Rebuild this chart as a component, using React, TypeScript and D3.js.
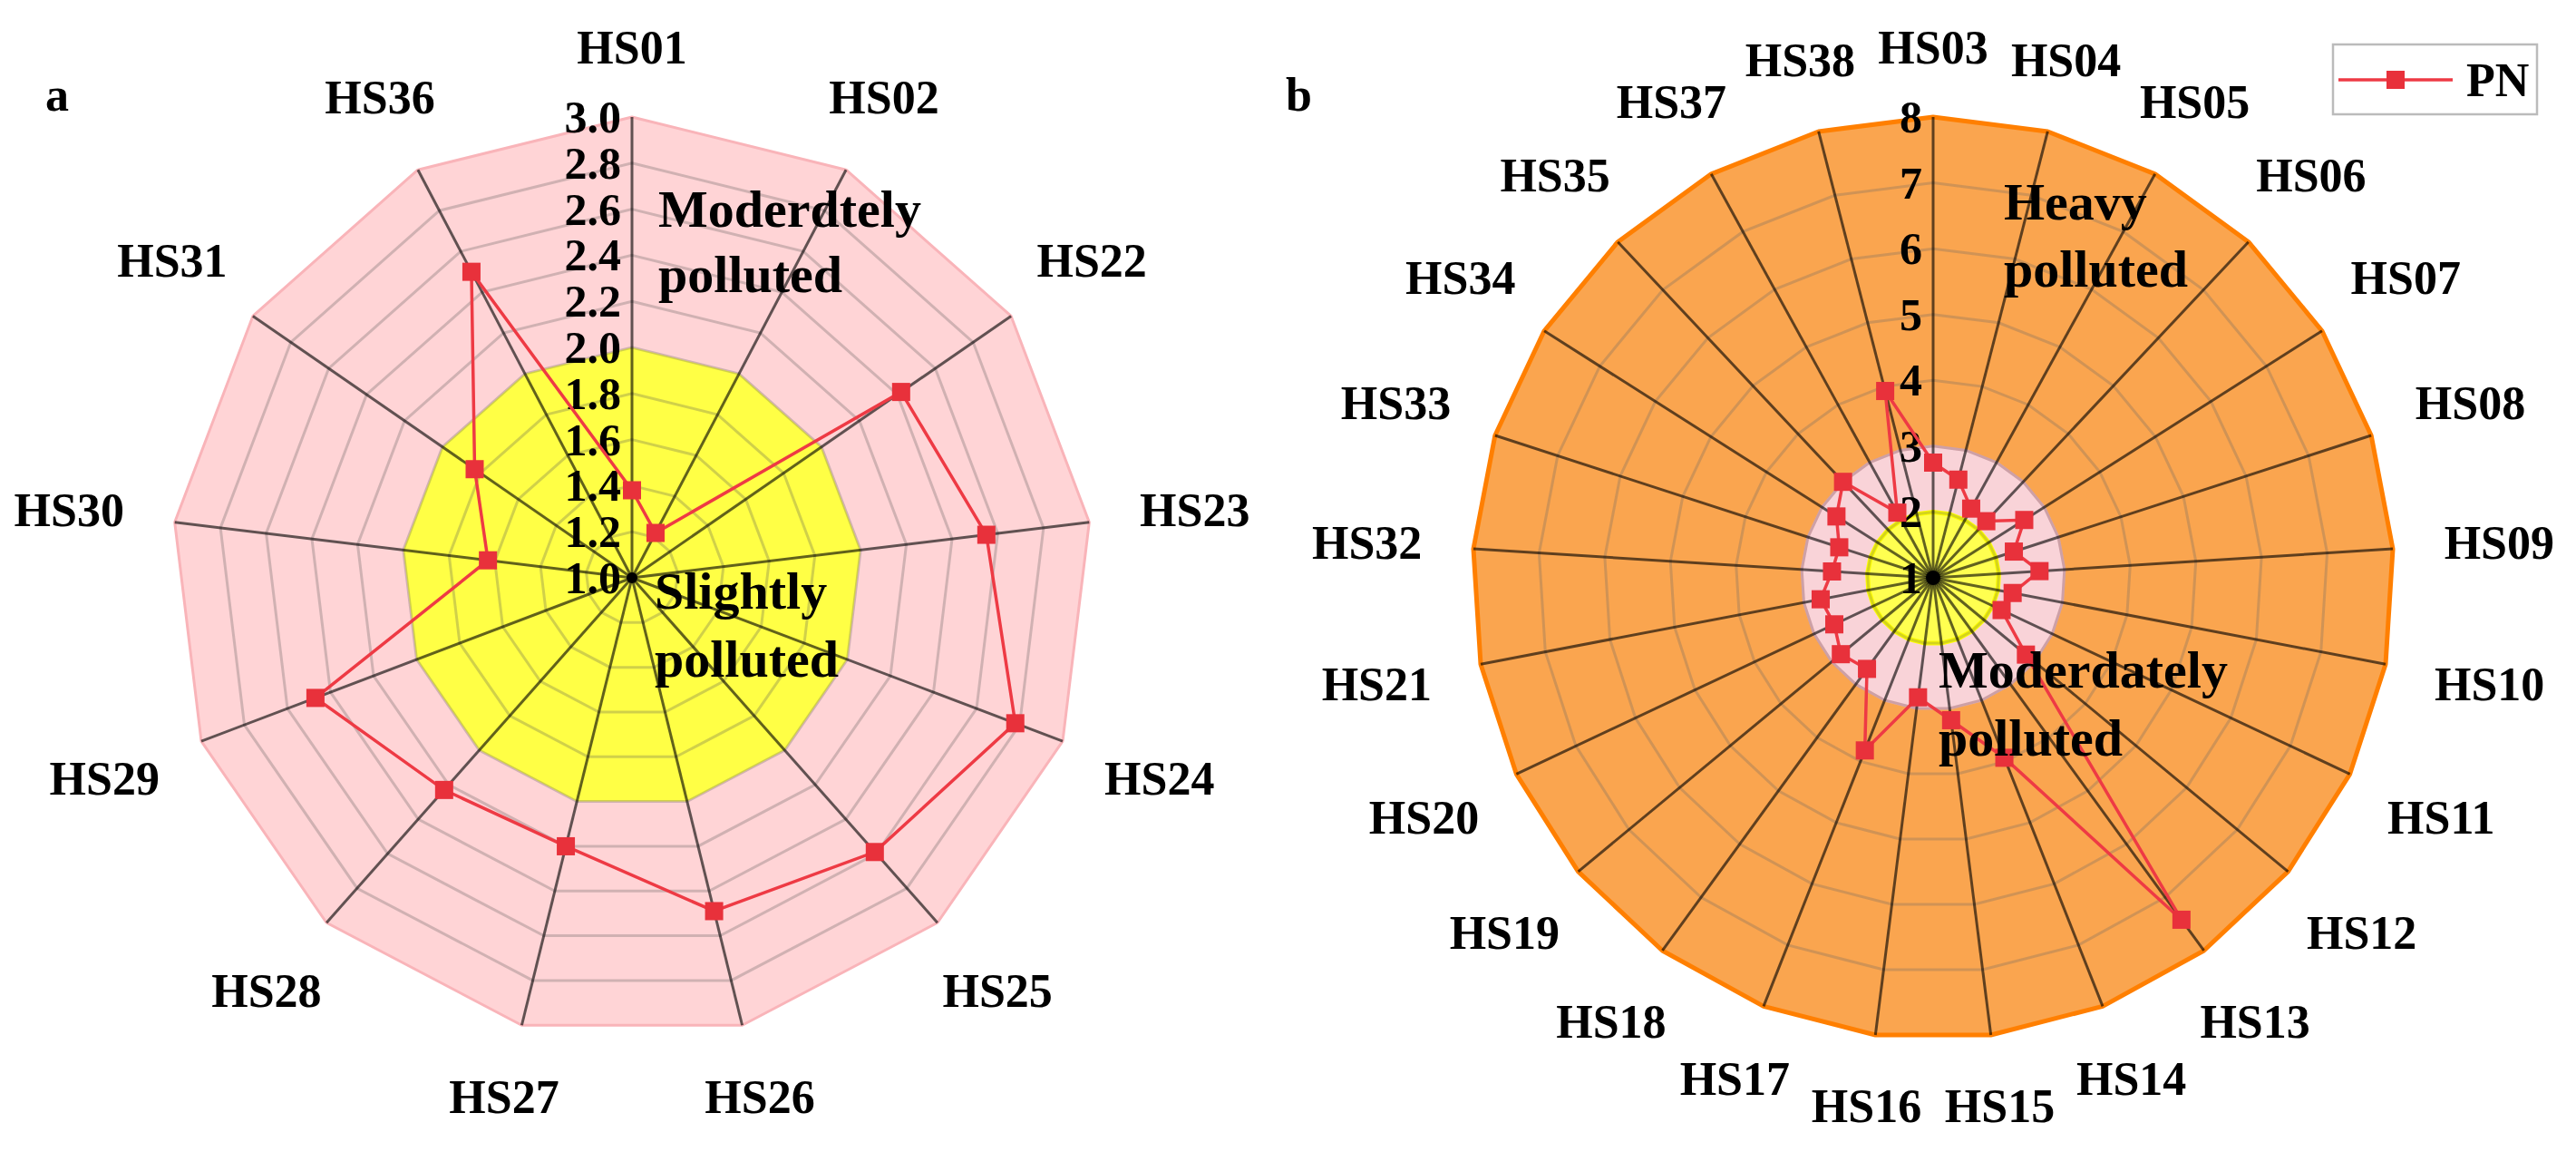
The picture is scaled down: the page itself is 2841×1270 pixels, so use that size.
import { useRef, useEffect } from "react";
import * as d3 from "d3";

// panel a
const catsA = ["HS01", "HS02", "HS22", "HS23", "HS24", "HS25", "HS26", "HS27", "HS28", "HS29", "HS30", "HS31", "HS36"];
const valsA = [1.38, 1.22, 2.42, 2.55, 2.78, 2.59, 2.49, 2.2, 2.23, 2.47, 1.63, 1.83, 2.5];
const ticksA = ["1.0", "1.2", "1.4", "1.6", "1.8", "2.0", "2.2", "2.4", "2.6", "2.8", "3.0"];
const zonesA = [3.0, 2.0];

// panel b
const catsB = [
  "HS03", "HS04", "HS05", "HS06", "HS07", "HS08", "HS09", "HS10", "HS11", "HS12", "HS13", "HS14", "HS15",
  "HS16", "HS17", "HS18", "HS19", "HS20", "HS21", "HS32", "HS33", "HS34", "HS35", "HS37", "HS38",
];
const valsB = [
  2.75, 2.54, 2.2, 2.18, 2.64, 2.29, 2.62, 2.23, 2.15, 2.83, 7.42, 3.94, 3.18,
  2.83, 3.82, 2.71, 2.82, 2.66, 2.74, 2.54, 2.5, 2.74, 3.0, 2.13, 3.93,
];
const ticksB = ["1", "2", "3", "4", "5", "6", "7", "8"];
const zonesB = [8, 3, 2];

const seriesName = "PN";

const W = 2841;
const H = 1270;
const FONT = "'Liberation Serif', 'Times New Roman', serif";
const RED = "#EE3a44";

type ZoneStyle = { fill: string; stroke: string; sw: number };

interface RadarOpts {
  cx: number;
  cy: number;
  r: number;
  cats: string[];
  vals: number[];
  ticks: string[];
  zones: number[];
  zoneStyles: ZoneStyle[];
  gridColor: string;
  dot: number;
  notes: { text: string; x: number; y: number }[];
}

function drawRadar(svg: d3.Selection<SVGSVGElement, unknown, null, undefined>, o: RadarOpts) {
  const n = o.cats.length;
  const tv = o.ticks.map(Number);
  const rs = d3.scaleLinear().domain([tv[0], tv[tv.length - 1]]).range([0, o.r]);
  const ang = (i: number) => (2 * Math.PI * i) / n;
  const g = svg.append("g").attr("transform", `translate(${o.cx},${o.cy})`);

  const ring = (v: number) =>
    d3
      .lineRadial<number>()
      .angle((_, i) => ang(i))
      .radius(() => rs(v))
      .curve(d3.curveLinearClosed)(d3.range(n));

  // zone fills
  o.zones.forEach((z, i) => {
    const st = o.zoneStyles[i];
    g.append("path")
      .attr("d", ring(z))
      .attr("fill", st.fill)
      .attr("stroke", st.stroke)
      .attr("stroke-width", st.sw)
      .attr("stroke-linejoin", "round");
  });

  // grid rings (outer edge left to the zone stroke)
  tv.slice(1, -1).forEach((v) => {
    g.append("path")
      .attr("d", ring(v))
      .attr("fill", "none")
      .attr("stroke", o.gridColor)
      .attr("stroke-opacity", 0.28)
      .attr("stroke-width", 3);
  });

  // spokes
  g.selectAll(".spoke")
    .data(d3.range(n))
    .join("line")
    .attr("x1", 0)
    .attr("y1", 0)
    .attr("x2", (i) => o.r * Math.sin(ang(i)))
    .attr("y2", (i) => -o.r * Math.cos(ang(i)))
    .attr("stroke", "#000")
    .attr("stroke-opacity", 0.62)
    .attr("stroke-width", 3);

  g.append("circle").attr("r", o.dot).attr("fill", "#000");

  // tick labels
  g.selectAll(".tick")
    .data(o.ticks)
    .join("text")
    .attr("x", -12)
    .attr("y", (d) => -rs(+d) + 17)
    .attr("text-anchor", "end")
    .attr("font-family", FONT)
    .attr("font-weight", "bold")
    .attr("font-size", 50)
    .attr("fill", "#000")
    .text((d) => d);

  // category labels
  o.cats.forEach((c, i) => {
    const a = ang(i);
    const t = g
      .append("text")
      .attr("text-anchor", "middle")
      .attr("font-family", FONT)
      .attr("font-weight", "bold")
      .attr("font-size", 52)
      .attr("fill", "#000")
      .text(c);
    const w = (t.node() as SVGTextElement).getComputedTextLength();
    const rr = 565 + Math.hypot((Math.sin(a) * w) / 2, (Math.cos(a) * 40) / 2);
    t.attr("x", rr * Math.sin(a)).attr("y", -rr * Math.cos(a) + 18);
  });

  // series line
  const line = d3
    .lineRadial<number>()
    .angle((_, i) => ang(i))
    .radius((d) => rs(d))
    .curve(d3.curveLinearClosed);
  g.append("path")
    .attr("d", line(o.vals))
    .attr("fill", "none")
    .attr("stroke", RED)
    .attr("stroke-width", 3.5);

  g.selectAll(".mk")
    .data(o.vals)
    .join("rect")
    .attr("x", (d, i) => rs(d) * Math.sin(ang(i)) - 10)
    .attr("y", (d, i) => -rs(d) * Math.cos(ang(i)) - 10)
    .attr("width", 20)
    .attr("height", 20)
    .attr("fill", "#E8313B");

  // zone notes
  svg
    .selectAll(null)
    .data(o.notes)
    .join("text")
    .attr("x", (d) => d.x)
    .attr("y", (d) => d.y)
    .attr("font-family", FONT)
    .attr("font-weight", "bold")
    .attr("font-size", 58)
    .attr("fill", "#000")
    .text((d) => d.text);
}

export default function App() {
  const svgRef = useRef<SVGSVGElement>(null);

  useEffect(() => {
    document.body.style.margin = "0";
    if (!svgRef.current) return;
    const svg = d3.select(svgRef.current);
    svg.selectAll("*").remove();

    drawRadar(svg, {
      cx: 697,
      cy: 637,
      r: 508,
      cats: catsA,
      vals: valsA,
      ticks: ticksA,
      zones: zonesA,
      zoneStyles: [
        { fill: "#FFD4D6", stroke: "#F9B4B9", sw: 3 },
        { fill: "#FFFF45", stroke: "none", sw: 0 },
      ],
      gridColor: "#555",
      dot: 6,
      notes: [
        { text: "Moderdtely", x: 726, y: 250 },
        { text: "polluted", x: 726, y: 322 },
        { text: "Slightly", x: 722, y: 671 },
        { text: "polluted", x: 722, y: 746 },
      ],
    });

    drawRadar(svg, {
      cx: 2132,
      cy: 637,
      r: 508,
      cats: catsB,
      vals: valsB,
      ticks: ticksB,
      zones: zonesB,
      zoneStyles: [
        { fill: "#FAA54F", stroke: "#FF7F00", sw: 5 },
        { fill: "#F9D3D8", stroke: "#F5B8C0", sw: 3 },
        { fill: "#FFFF50", stroke: "#FFFF00", sw: 5 },
      ],
      gridColor: "#666",
      dot: 8,
      notes: [
        { text: "Heavy", x: 2210, y: 242 },
        { text: "polluted", x: 2210, y: 316 },
        { text: "Moderdately", x: 2138, y: 758 },
        { text: "polluted", x: 2138, y: 833 },
      ],
    });

    // panel letters
    svg
      .selectAll(null)
      .data([
        { t: "a", x: 50 },
        { t: "b", x: 1418 },
      ])
      .join("text")
      .attr("x", (d) => d.x)
      .attr("y", 122)
      .attr("font-family", FONT)
      .attr("font-weight", "bold")
      .attr("font-size", 52)
      .text((d) => d.t);

    // legend
    const lg = svg.append("g").attr("transform", "translate(2573,49)");
    lg.append("rect")
      .attr("width", 225)
      .attr("height", 77)
      .attr("fill", "#fff")
      .attr("stroke", "#BBB")
      .attr("stroke-width", 2.5);
    lg.append("line")
      .attr("x1", 6)
      .attr("x2", 132)
      .attr("y1", 39)
      .attr("y2", 39)
      .attr("stroke", RED)
      .attr("stroke-width", 3.5);
    lg.append("rect").attr("x", 59).attr("y", 29).attr("width", 20).attr("height", 20).attr("fill", "#E8313B");
    lg.append("text")
      .attr("x", 147)
      .attr("y", 57)
      .attr("font-family", FONT)
      .attr("font-weight", "bold")
      .attr("font-size", 52)
      .text(seriesName);
  }, []);

  return <svg ref={svgRef} width={W} height={H} style={{ display: "block", background: "#fff" }} />;
}
